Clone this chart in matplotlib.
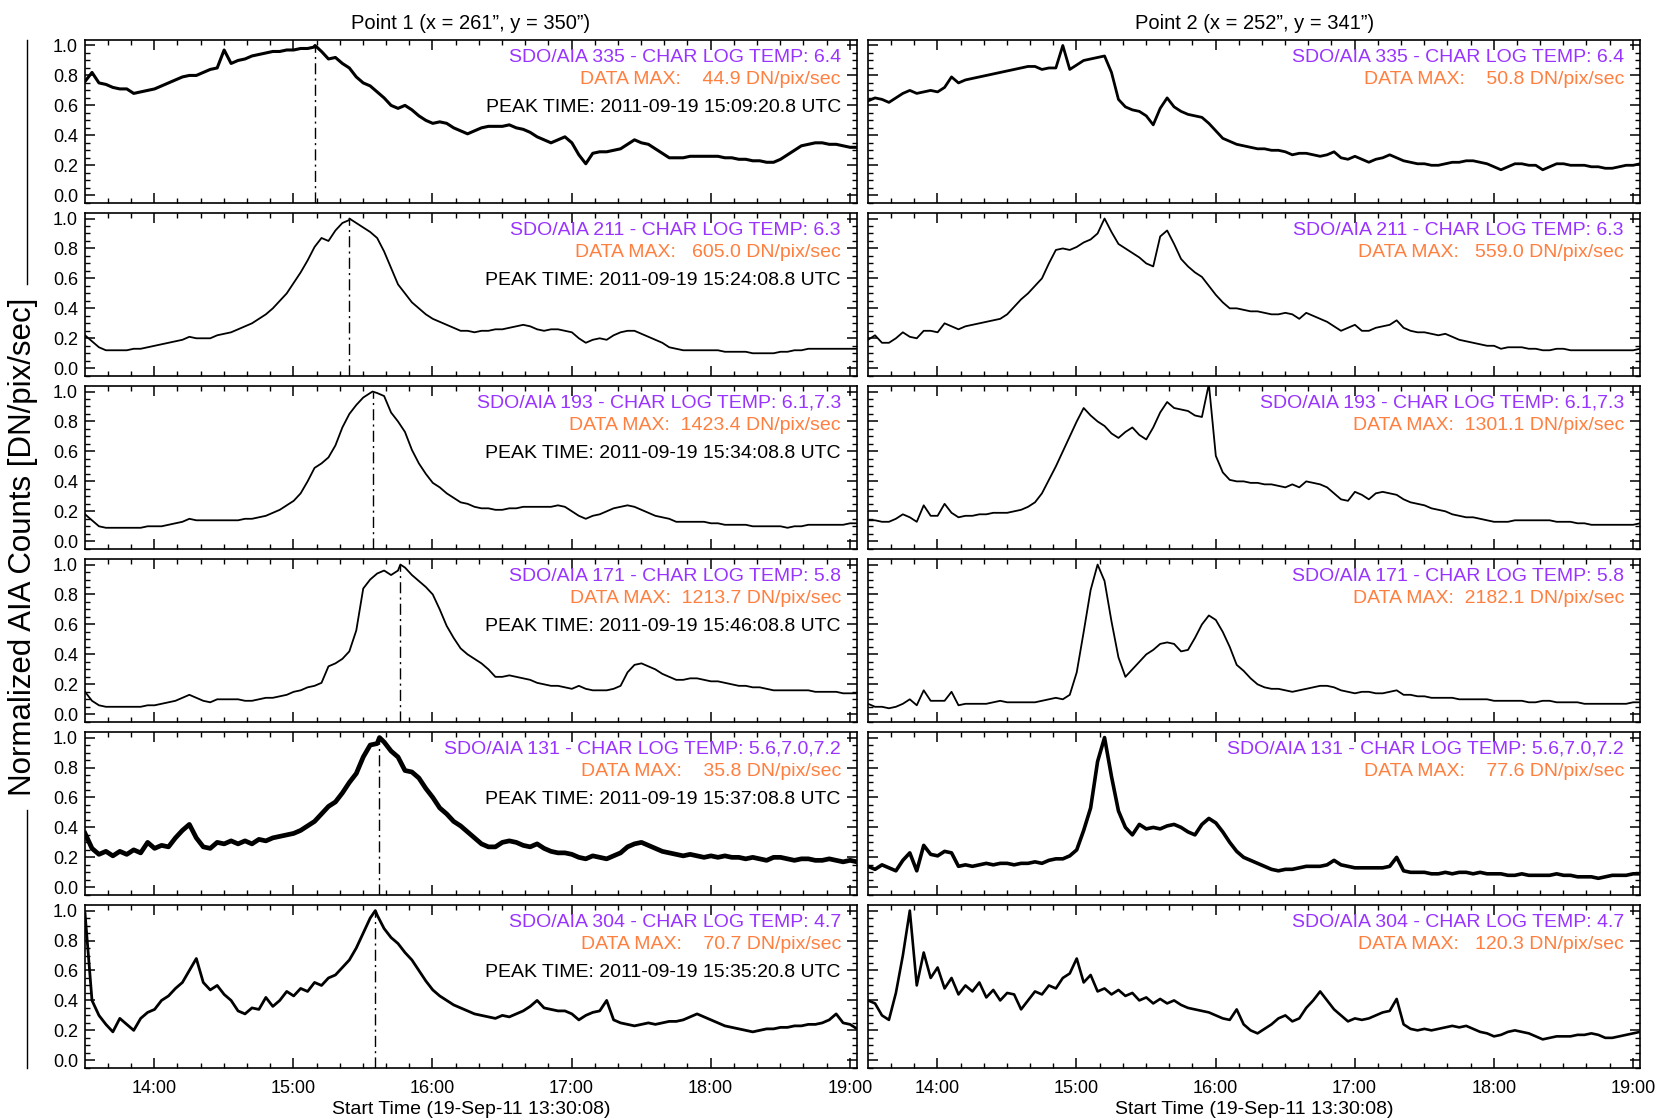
import numpy as np
import matplotlib
matplotlib.use("Agg")
import matplotlib.pyplot as plt
from matplotlib.ticker import MultipleLocator, FuncFormatter, FormatStrFormatter
from matplotlib.lines import Line2D

plt.rcParams['font.family'] = ['Liberation Sans', 'DejaVu Sans']

# AIA light curves, normalized, one sample every 3 minutes from 13:30:08
start_hr = 13 + 30 / 60 + 8 / 3600
cadence_min = 3.0

channels = ['335', '211', '193', '171', '131', '304']
log_temps = ['6.4', '6.3', '6.1,7.3', '5.8', '5.6,7.0,7.2', '4.7']
data_max_p1 = [44.9, 605.0, 1423.4, 1213.7, 35.8, 70.7]
data_max_p2 = [50.8, 559.0, 1301.1, 2182.1, 77.6, 120.3]
peak_time_p1 = ['15:09:20.8', '15:24:08.8', '15:34:08.8', '15:46:08.8', '15:37:08.8', '15:35:20.8']
point_titles = ['Point 1 (x = 261\u201d, y = 350\u201d)', 'Point 2 (x = 252\u201d, y = 341\u201d)']
start_label = 'Start Time (19-Sep-11 13:30:08)'

p1_335 = [0.76, 0.82, 0.75, 0.74, 0.72, 0.71, 0.71, 0.68, 0.69, 0.70,
          0.71, 0.73, 0.75, 0.77, 0.79, 0.80, 0.80, 0.82, 0.84, 0.85,
          0.97, 0.88, 0.90, 0.91, 0.93, 0.94, 0.95, 0.96, 0.96, 0.97,
          0.97, 0.98, 0.98, 0.99, 0.96, 0.91, 0.92, 0.88, 0.85, 0.79,
          0.75, 0.73, 0.69, 0.65, 0.60, 0.58, 0.60, 0.57, 0.53, 0.50,
          0.48, 0.49, 0.48, 0.45, 0.43, 0.41, 0.43, 0.45, 0.46, 0.46,
          0.46, 0.47, 0.45, 0.44, 0.42, 0.39, 0.37, 0.35, 0.37, 0.39,
          0.35, 0.27, 0.21, 0.28, 0.29, 0.29, 0.30, 0.31, 0.34, 0.37,
          0.35, 0.34, 0.31, 0.28, 0.25, 0.25, 0.25, 0.26, 0.26, 0.26,
          0.26, 0.26, 0.25, 0.25, 0.24, 0.24, 0.23, 0.23, 0.22, 0.22,
          0.24, 0.27, 0.30, 0.33, 0.34, 0.35, 0.35, 0.34, 0.34, 0.33,
          0.32, 0.32]
p1_211 = [0.22, 0.18, 0.14, 0.12, 0.12, 0.12, 0.12, 0.13, 0.13, 0.14,
          0.15, 0.16, 0.17, 0.18, 0.19, 0.21, 0.20, 0.20, 0.20, 0.22,
          0.23, 0.24, 0.26, 0.28, 0.30, 0.33, 0.36, 0.40, 0.45, 0.50,
          0.57, 0.64, 0.72, 0.81, 0.87, 0.85, 0.92, 0.97, 0.99, 0.97,
          0.94, 0.91, 0.87, 0.78, 0.67, 0.56, 0.50, 0.44, 0.40, 0.36,
          0.33, 0.31, 0.29, 0.27, 0.25, 0.25, 0.24, 0.25, 0.25, 0.26,
          0.26, 0.27, 0.28, 0.29, 0.28, 0.26, 0.25, 0.26, 0.26, 0.25,
          0.24, 0.20, 0.17, 0.19, 0.20, 0.19, 0.22, 0.24, 0.25, 0.25,
          0.23, 0.21, 0.19, 0.17, 0.14, 0.13, 0.12, 0.12, 0.12, 0.12,
          0.12, 0.12, 0.11, 0.11, 0.11, 0.11, 0.10, 0.10, 0.10, 0.10,
          0.11, 0.11, 0.12, 0.12, 0.13, 0.13, 0.13, 0.13, 0.13, 0.13,
          0.13, 0.13]
p1_193 = [0.18, 0.14, 0.10, 0.09, 0.09, 0.09, 0.09, 0.09, 0.09, 0.10,
          0.10, 0.10, 0.11, 0.12, 0.13, 0.15, 0.14, 0.14, 0.14, 0.14,
          0.14, 0.14, 0.14, 0.15, 0.15, 0.16, 0.17, 0.19, 0.21, 0.24,
          0.27, 0.32, 0.40, 0.49, 0.52, 0.56, 0.64, 0.76, 0.85, 0.91,
          0.96, 0.99, 0.99, 0.97, 0.86, 0.80, 0.73, 0.61, 0.52, 0.45,
          0.39, 0.36, 0.32, 0.29, 0.26, 0.25, 0.23, 0.22, 0.22, 0.21,
          0.21, 0.22, 0.22, 0.23, 0.23, 0.23, 0.23, 0.23, 0.24, 0.23,
          0.20, 0.17, 0.15, 0.17, 0.18, 0.20, 0.22, 0.23, 0.24, 0.23,
          0.21, 0.19, 0.17, 0.16, 0.15, 0.13, 0.13, 0.13, 0.13, 0.13,
          0.12, 0.12, 0.11, 0.11, 0.11, 0.11, 0.10, 0.10, 0.10, 0.10,
          0.10, 0.09, 0.10, 0.10, 0.11, 0.11, 0.11, 0.11, 0.11, 0.11,
          0.12, 0.12]
p1_171 = [0.15, 0.09, 0.06, 0.05, 0.05, 0.05, 0.05, 0.05, 0.05, 0.06,
          0.06, 0.07, 0.08, 0.09, 0.11, 0.13, 0.11, 0.09, 0.08, 0.10,
          0.10, 0.10, 0.10, 0.09, 0.09, 0.10, 0.11, 0.11, 0.12, 0.13,
          0.15, 0.16, 0.18, 0.19, 0.21, 0.32, 0.34, 0.37, 0.42, 0.56,
          0.84, 0.90, 0.94, 0.96, 0.93, 0.96, 0.98, 0.93, 0.89, 0.85,
          0.80, 0.70, 0.59, 0.51, 0.44, 0.40, 0.37, 0.34, 0.30, 0.25,
          0.25, 0.26, 0.25, 0.24, 0.23, 0.21, 0.20, 0.19, 0.19, 0.18,
          0.17, 0.19, 0.17, 0.16, 0.16, 0.16, 0.17, 0.19, 0.28, 0.33,
          0.34, 0.32, 0.30, 0.27, 0.25, 0.23, 0.23, 0.24, 0.24, 0.23,
          0.22, 0.22, 0.21, 0.20, 0.19, 0.19, 0.18, 0.18, 0.17, 0.16,
          0.16, 0.16, 0.16, 0.16, 0.16, 0.15, 0.15, 0.15, 0.15, 0.14,
          0.14, 0.14]
p1_131 = [0.36, 0.26, 0.22, 0.24, 0.21, 0.24, 0.22, 0.25, 0.23, 0.30,
          0.26, 0.28, 0.27, 0.33, 0.38, 0.42, 0.33, 0.27, 0.26, 0.30,
          0.29, 0.31, 0.29, 0.31, 0.29, 0.32, 0.31, 0.33, 0.34, 0.35,
          0.36, 0.38, 0.41, 0.44, 0.49, 0.54, 0.57, 0.63, 0.70, 0.76,
          0.87, 0.95, 0.96, 0.97, 0.91, 0.87, 0.78, 0.77, 0.73, 0.66,
          0.60, 0.53, 0.49, 0.44, 0.41, 0.37, 0.33, 0.29, 0.27, 0.27,
          0.30, 0.31, 0.30, 0.28, 0.27, 0.29, 0.26, 0.24, 0.23, 0.23,
          0.22, 0.20, 0.19, 0.21, 0.20, 0.19, 0.21, 0.23, 0.27, 0.29,
          0.30, 0.28, 0.26, 0.24, 0.23, 0.22, 0.21, 0.22, 0.21, 0.20,
          0.21, 0.20, 0.21, 0.20, 0.20, 0.19, 0.20, 0.19, 0.18, 0.20,
          0.20, 0.19, 0.18, 0.19, 0.19, 0.18, 0.18, 0.19, 0.18, 0.17,
          0.18, 0.17]
p1_304 = [0.98, 0.40, 0.30, 0.24, 0.19, 0.28, 0.24, 0.20, 0.28, 0.32,
          0.34, 0.40, 0.43, 0.48, 0.52, 0.60, 0.68, 0.52, 0.47, 0.50,
          0.44, 0.40, 0.33, 0.31, 0.35, 0.34, 0.42, 0.36, 0.40, 0.46,
          0.43, 0.48, 0.46, 0.52, 0.50, 0.55, 0.57, 0.62, 0.67, 0.75,
          0.85, 0.95, 0.97, 0.88, 0.82, 0.78, 0.72, 0.67, 0.60, 0.53,
          0.47, 0.43, 0.40, 0.37, 0.35, 0.33, 0.31, 0.30, 0.29, 0.28,
          0.30, 0.29, 0.31, 0.33, 0.36, 0.40, 0.35, 0.34, 0.33, 0.33,
          0.31, 0.27, 0.30, 0.32, 0.33, 0.40, 0.27, 0.25, 0.24, 0.23,
          0.24, 0.25, 0.24, 0.25, 0.26, 0.26, 0.27, 0.29, 0.31, 0.29,
          0.27, 0.25, 0.23, 0.22, 0.21, 0.20, 0.19, 0.20, 0.21, 0.21,
          0.22, 0.22, 0.23, 0.23, 0.24, 0.24, 0.25, 0.27, 0.31, 0.25,
          0.24, 0.21]

p2_335 = [0.63, 0.65, 0.64, 0.62, 0.65, 0.68, 0.70, 0.68, 0.69, 0.70,
          0.69, 0.72, 0.79, 0.75, 0.77, 0.78, 0.79, 0.80, 0.81, 0.82,
          0.83, 0.84, 0.85, 0.86, 0.86, 0.84, 0.85, 0.85, 1.00, 0.84,
          0.87, 0.90, 0.91, 0.92, 0.93, 0.82, 0.64, 0.59, 0.57, 0.56,
          0.53, 0.47, 0.58, 0.65, 0.59, 0.56, 0.54, 0.53, 0.52, 0.48,
          0.43, 0.38, 0.36, 0.34, 0.33, 0.32, 0.31, 0.31, 0.30, 0.30,
          0.29, 0.27, 0.28, 0.28, 0.27, 0.26, 0.27, 0.29, 0.25, 0.24,
          0.26, 0.24, 0.22, 0.24, 0.25, 0.27, 0.25, 0.23, 0.22, 0.21,
          0.21, 0.20, 0.20, 0.21, 0.22, 0.22, 0.23, 0.23, 0.22, 0.21,
          0.19, 0.17, 0.19, 0.21, 0.21, 0.20, 0.20, 0.17, 0.19, 0.21,
          0.21, 0.20, 0.20, 0.20, 0.19, 0.19, 0.18, 0.18, 0.19, 0.20,
          0.20, 0.21]
p2_211 = [0.19, 0.22, 0.17, 0.17, 0.20, 0.24, 0.21, 0.20, 0.25, 0.25,
          0.24, 0.30, 0.28, 0.26, 0.28, 0.29, 0.30, 0.31, 0.32, 0.33,
          0.36, 0.41, 0.46, 0.50, 0.55, 0.60, 0.70, 0.79, 0.80, 0.79,
          0.81, 0.84, 0.86, 0.90, 1.00, 0.91, 0.83, 0.80, 0.77, 0.74,
          0.70, 0.68, 0.88, 0.92, 0.83, 0.73, 0.68, 0.64, 0.61, 0.55,
          0.49, 0.44, 0.40, 0.40, 0.39, 0.38, 0.38, 0.37, 0.36, 0.36,
          0.37, 0.36, 0.33, 0.37, 0.35, 0.33, 0.31, 0.28, 0.25, 0.27,
          0.29, 0.25, 0.25, 0.27, 0.28, 0.29, 0.32, 0.27, 0.25, 0.24,
          0.24, 0.23, 0.22, 0.23, 0.21, 0.19, 0.18, 0.17, 0.16, 0.15,
          0.15, 0.13, 0.14, 0.14, 0.14, 0.13, 0.13, 0.12, 0.12, 0.13,
          0.13, 0.12, 0.12, 0.12, 0.12, 0.12, 0.12, 0.12, 0.12, 0.12,
          0.12, 0.13]
p2_193 = [0.14, 0.14, 0.13, 0.13, 0.15, 0.18, 0.16, 0.13, 0.24, 0.17,
          0.17, 0.25, 0.19, 0.16, 0.17, 0.17, 0.18, 0.18, 0.19, 0.19,
          0.19, 0.20, 0.21, 0.23, 0.26, 0.32, 0.41, 0.50, 0.60, 0.70,
          0.80, 0.89, 0.84, 0.80, 0.77, 0.72, 0.69, 0.73, 0.76, 0.71,
          0.68, 0.76, 0.86, 0.93, 0.89, 0.88, 0.87, 0.84, 0.83, 1.05,
          0.57, 0.46, 0.41, 0.40, 0.40, 0.39, 0.39, 0.38, 0.38, 0.37,
          0.36, 0.38, 0.36, 0.40, 0.39, 0.38, 0.36, 0.32, 0.28, 0.27,
          0.33, 0.31, 0.28, 0.32, 0.33, 0.32, 0.31, 0.28, 0.26, 0.25,
          0.24, 0.22, 0.21, 0.20, 0.18, 0.17, 0.16, 0.16, 0.15, 0.14,
          0.13, 0.13, 0.13, 0.14, 0.14, 0.14, 0.14, 0.14, 0.14, 0.13,
          0.13, 0.13, 0.12, 0.12, 0.11, 0.11, 0.11, 0.11, 0.11, 0.11,
          0.11, 0.12]
p2_171 = [0.07, 0.05, 0.05, 0.04, 0.05, 0.07, 0.10, 0.06, 0.16, 0.09,
          0.09, 0.09, 0.15, 0.06, 0.07, 0.07, 0.07, 0.07, 0.08, 0.09,
          0.08, 0.08, 0.08, 0.08, 0.08, 0.09, 0.10, 0.11, 0.10, 0.13,
          0.28, 0.55, 0.83, 1.00, 0.89, 0.62, 0.38, 0.25, 0.30, 0.35,
          0.40, 0.43, 0.47, 0.48, 0.47, 0.42, 0.43, 0.51, 0.60, 0.66,
          0.63, 0.55, 0.45, 0.33, 0.29, 0.24, 0.20, 0.18, 0.17, 0.17,
          0.16, 0.15, 0.16, 0.17, 0.18, 0.19, 0.19, 0.18, 0.16, 0.15,
          0.14, 0.15, 0.15, 0.14, 0.14, 0.15, 0.16, 0.13, 0.13, 0.12,
          0.12, 0.11, 0.11, 0.11, 0.11, 0.10, 0.10, 0.10, 0.10, 0.10,
          0.09, 0.09, 0.09, 0.09, 0.09, 0.08, 0.08, 0.09, 0.09, 0.08,
          0.08, 0.08, 0.08, 0.07, 0.07, 0.07, 0.07, 0.07, 0.07, 0.07,
          0.08, 0.08]
p2_131 = [0.14, 0.12, 0.15, 0.13, 0.11, 0.18, 0.23, 0.11, 0.28, 0.22,
          0.21, 0.24, 0.23, 0.14, 0.15, 0.14, 0.15, 0.16, 0.15, 0.16,
          0.16, 0.15, 0.16, 0.16, 0.17, 0.16, 0.18, 0.19, 0.19, 0.21,
          0.25, 0.38, 0.53, 0.84, 1.00, 0.74, 0.51, 0.40, 0.35, 0.42,
          0.39, 0.40, 0.39, 0.41, 0.42, 0.40, 0.37, 0.35, 0.42, 0.46,
          0.43, 0.37, 0.30, 0.24, 0.20, 0.18, 0.16, 0.14, 0.12, 0.11,
          0.12, 0.12, 0.13, 0.14, 0.14, 0.14, 0.15, 0.18, 0.15, 0.14,
          0.13, 0.13, 0.13, 0.13, 0.13, 0.14, 0.20, 0.11, 0.10, 0.10,
          0.10, 0.09, 0.09, 0.10, 0.09, 0.10, 0.10, 0.09, 0.10, 0.09,
          0.09, 0.09, 0.08, 0.08, 0.09, 0.08, 0.08, 0.08, 0.08, 0.09,
          0.08, 0.08, 0.07, 0.07, 0.07, 0.06, 0.07, 0.08, 0.08, 0.08,
          0.09, 0.09]
p2_304 = [0.40, 0.38, 0.30, 0.27, 0.45, 0.70, 1.00, 0.50, 0.72, 0.55,
          0.62, 0.48, 0.55, 0.44, 0.50, 0.46, 0.52, 0.42, 0.47, 0.40,
          0.45, 0.44, 0.34, 0.40, 0.46, 0.44, 0.50, 0.48, 0.55, 0.58,
          0.68, 0.52, 0.57, 0.46, 0.48, 0.44, 0.47, 0.43, 0.45, 0.40,
          0.42, 0.38, 0.41, 0.38, 0.40, 0.37, 0.35, 0.34, 0.33, 0.32,
          0.30, 0.28, 0.27, 0.34, 0.24, 0.20, 0.18, 0.21, 0.24, 0.28,
          0.30, 0.26, 0.28, 0.35, 0.40, 0.46, 0.40, 0.34, 0.30, 0.26,
          0.28, 0.27, 0.28, 0.30, 0.32, 0.33, 0.41, 0.24, 0.21, 0.20,
          0.21, 0.20, 0.21, 0.22, 0.23, 0.22, 0.23, 0.21, 0.19, 0.18,
          0.16, 0.17, 0.19, 0.20, 0.19, 0.18, 0.16, 0.14, 0.15, 0.16,
          0.16, 0.16, 0.17, 0.17, 0.18, 0.17, 0.15, 0.15, 0.16, 0.17,
          0.18, 0.19]

point1 = [p1_335, p1_211, p1_193, p1_171, p1_131, p1_304]
point2 = [p2_335, p2_211, p2_193, p2_171, p2_131, p2_304]
# noisier channels get a heavier trace
line_widths = [[2.2, 1.3, 1.3, 1.3, 3.4, 2.0],
               [2.0, 1.3, 1.3, 1.3, 2.6, 1.9]]

purple = '#9933ff'
orange = '#ff7f3f'


def to_hours(s):
    h, m, sec = s.split(':')
    return int(h) + int(m) / 60 + float(sec) / 3600


def hour_label(x, pos):
    return '%02d:00' % int(round(x))


fig, axes = plt.subplots(6, 2, figsize=(16.61, 11.18), dpi=100)
fig.subplots_adjust(left=0.0512, right=0.9874, top=0.964, bottom=0.0449,
                    hspace=0.065, wspace=0.0143)

for col, (series, dmax) in enumerate([(point1, data_max_p1), (point2, data_max_p2)]):
    for row in range(6):
        ax = axes[row, col]
        v = np.array(series[row], dtype=float)
        t = start_hr + cadence_min * np.arange(len(v)) / 60.0

        if col == 0:
            tp = to_hours(peak_time_p1[row])
            k = np.searchsorted(t, tp)
            t = np.insert(t, k, tp)
            v = np.insert(v, k, 1.0)
            ax.vlines(tp, -0.05, 1.0, colors='k', lw=1.0,
                      linestyles=[(0, (8, 3, 1.5, 3))])

        ax.plot(t, v, color='k', lw=line_widths[col][row])

        ax.set_xlim(start_hr, start_hr + cadence_min * (len(series[row]) - 1) / 60.0)
        ax.set_ylim(-0.05, 1.035)
        ax.xaxis.set_major_locator(MultipleLocator(1.0))
        ax.xaxis.set_minor_locator(MultipleLocator(1.0 / 6))
        ax.xaxis.set_major_formatter(FuncFormatter(hour_label))
        ax.yaxis.set_major_locator(MultipleLocator(0.2))
        ax.yaxis.set_minor_locator(MultipleLocator(0.05))
        ax.yaxis.set_major_formatter(FormatStrFormatter('%.1f'))
        ax.tick_params(which='both', direction='in', top=True, right=True,
                       labelsize=13)
        ax.tick_params(which='major', length=7, width=1.1, pad=5)
        ax.tick_params(axis='x', which='major', pad=9)
        ax.tick_params(which='minor', length=3.5, width=1.0)
        for sp in ax.spines.values():
            sp.set_linewidth(1.2)
        if col == 1:
            ax.tick_params(labelleft=False)
        if row < 5:
            ax.tick_params(labelbottom=False)
        else:
            ax.set_xlabel(start_label, fontsize=14, labelpad=3)

        ax.text(0.979, 0.896, 'SDO/AIA %s - CHAR LOG TEMP: %s' % (channels[row], log_temps[row]),
                transform=ax.transAxes, ha='right', va='center', color=purple, fontsize=14)
        ax.text(0.979, 0.761, 'DATA MAX: %7.1f DN/pix/sec' % dmax[row],
                transform=ax.transAxes, ha='right', va='center', color=orange, fontsize=14)
        if col == 0:
            ax.text(0.979, 0.585, 'PEAK TIME: 2011-09-19 %s UTC' % peak_time_p1[row],
                    transform=ax.transAxes, ha='right', va='center', color='k', fontsize=14)

    axes[0, col].set_title(point_titles[col], fontsize=14.5, pad=8)

fig.text(0.014, 0.511, 'Normalized AIA Counts [DN/pix/sec]', rotation=90,
         ha='center', va='center', fontsize=22.5)
fig.add_artist(Line2D([0.016, 0.016], [0.746, 0.964], transform=fig.transFigure,
                      color='k', lw=1.0))
fig.add_artist(Line2D([0.016, 0.016], [0.0449, 0.2755], transform=fig.transFigure,
                      color='k', lw=1.0))

fig.savefig('out.png', dpi=100)
